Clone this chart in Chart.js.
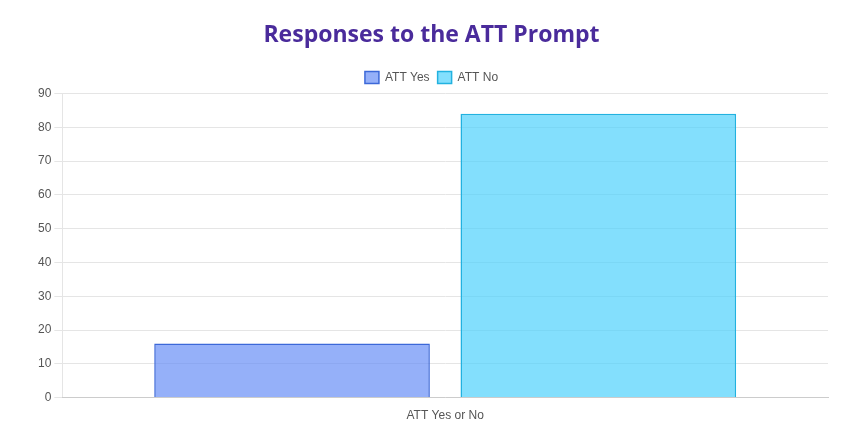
<!DOCTYPE html>
<html>
<head>
<meta charset="utf-8">
<script src="https://cdn.jsdelivr.net/npm/chart.js@4"></script>
<style>
  html, body { margin: 0; padding: 0; background: #fff; }
  #wrap { width: 850px; height: 432px; }
</style>
</head>
<body>
<div id="wrap"><canvas id="attChart"></canvas></div>
<script>
const categories = ['ATT Yes or No'];
const yesValues  = [16];
const noValues   = [84];
const seriesNames = ['ATT Yes', 'ATT No'];

new Chart(document.getElementById('attChart'), {
  type: 'bar',
  data: {
    labels: categories,
    datasets: [
      {
        label: seriesNames[0],
        data: yesValues,
        backgroundColor: 'rgba(104,142,246,0.7)',
        borderColor: '#3c68d8',
        borderWidth: 1.5,
        categoryPercentage: 0.8,
        barPercentage: 0.9
      },
      {
        label: seriesNames[1],
        data: noValues,
        backgroundColor: 'rgba(72,208,252,0.68)',
        borderColor: '#22b2e0',
        borderWidth: 1.5,
        categoryPercentage: 0.8,
        barPercentage: 0.9
      }
    ]
  },
  options: {
    responsive: true, maintainAspectRatio: false, animation: false,
    layout: { padding: { left: 35, right: 22, top: 10, bottom: 6 } },
    plugins: {
      title: {
        display: true,
        text: 'Responses to the ATT Prompt',
        color: '#4a2b9b',
        font: { size: 23, weight: 'bold', family: 'Open Sans' },
        padding: { top: 12, bottom: 14 }
      },
      legend: {
        labels: { color: '#555', font: { size: 12 }, boxWidth: 14, boxHeight: 12, padding: 8 }
      }
    },
    scales: {
      y: {
        beginAtZero: true, max: 90,
        ticks: { stepSize: 10, color: '#555', font: { size: 12 } },
        grid: { color: '#e5e5e5' }
      },
      x: {
        ticks: { color: '#555', font: { size: 12 } },
        grid: { display: false },
        border: { color: '#ccc' }
      }
    }
  }
});
</script>
</body>
</html>
